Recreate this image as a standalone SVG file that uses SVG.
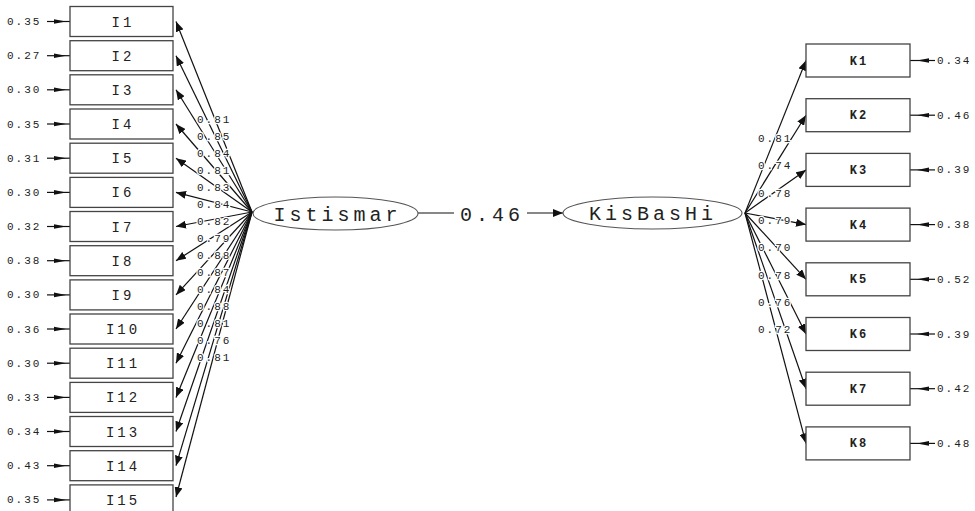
<svg xmlns="http://www.w3.org/2000/svg" width="975" height="511" viewBox="0 0 975 511">
<style>
.box{fill:#fff;stroke:#444;stroke-width:1.3}
.ell{fill:#fff;stroke:#555;stroke-width:1.1}
.ln{stroke:#111;stroke-width:1.2;fill:none}
.mono{font-family:"Liberation Mono","DejaVu Sans Mono",monospace;fill:#222}
.big{font-size:20px;letter-spacing:4px}
.ind{font-size:14px;letter-spacing:3px}
.kind{font-size:12px;letter-spacing:2px;font-weight:bold}
.err{font-size:11px;letter-spacing:2px}
.lab{font-size:11px;letter-spacing:2px;stroke:#fff;stroke-width:2.5;paint-order:stroke}
.ah{fill:#111}
</style>
<defs>
<marker id="arr" viewBox="0 0 10 8" refX="10" refY="4" markerWidth="10" markerHeight="8" orient="auto" markerUnits="userSpaceOnUse"><path d="M0,0 L10,4 L0,8 z" fill="#111"/></marker>
<path id="eR" d="M0,0 L-12,-2.3 L-12,2.3 z" class="ah"/>
<path id="eL" d="M0,0 L12,-2.3 L12,2.3 z" class="ah"/>
</defs>
<g id="connectors">
<g id="loadings-I">
<line class="ln" x1="252" y1="212" x2="176" y2="21.5" marker-end="url(#arr)"/>
<line class="ln" x1="252" y1="212" x2="176" y2="55.7" marker-end="url(#arr)"/>
<line class="ln" x1="252" y1="212" x2="176" y2="89.8" marker-end="url(#arr)"/>
<line class="ln" x1="252" y1="212" x2="176" y2="124" marker-end="url(#arr)"/>
<line class="ln" x1="252" y1="212" x2="176" y2="158.2" marker-end="url(#arr)"/>
<line class="ln" x1="252" y1="212" x2="176" y2="192.4" marker-end="url(#arr)"/>
<line class="ln" x1="252" y1="212" x2="176" y2="226.5" marker-end="url(#arr)"/>
<line class="ln" x1="252" y1="212" x2="176" y2="260.7" marker-end="url(#arr)"/>
<line class="ln" x1="252" y1="212" x2="176" y2="294.9" marker-end="url(#arr)"/>
<line class="ln" x1="252" y1="212" x2="176" y2="329" marker-end="url(#arr)"/>
<line class="ln" x1="252" y1="212" x2="176" y2="363.2" marker-end="url(#arr)"/>
<line class="ln" x1="252" y1="212" x2="176" y2="397.4" marker-end="url(#arr)"/>
<line class="ln" x1="252" y1="212" x2="176" y2="431.5" marker-end="url(#arr)"/>
<line class="ln" x1="252" y1="212" x2="176" y2="465.7" marker-end="url(#arr)"/>
<line class="ln" x1="252" y1="212" x2="176" y2="497" marker-end="url(#arr)"/>
</g>
<g id="loadings-K">
<line class="ln" x1="745" y1="213" x2="806" y2="60.5" marker-end="url(#arr)"/>
<line class="ln" x1="745" y1="213" x2="806" y2="115.2" marker-end="url(#arr)"/>
<line class="ln" x1="745" y1="213" x2="806" y2="169.9" marker-end="url(#arr)"/>
<line class="ln" x1="745" y1="213" x2="806" y2="224.6" marker-end="url(#arr)"/>
<line class="ln" x1="745" y1="213" x2="806" y2="279.3" marker-end="url(#arr)"/>
<line class="ln" x1="745" y1="213" x2="806" y2="334" marker-end="url(#arr)"/>
<line class="ln" x1="745" y1="213" x2="806" y2="388.7" marker-end="url(#arr)"/>
<line class="ln" x1="745" y1="213" x2="806" y2="443.4" marker-end="url(#arr)"/>
</g>
<g id="path-structural">
<line class="ln" x1="418" y1="213" x2="454" y2="213"/>
<line class="ln" x1="527" y1="213" x2="563" y2="213" marker-end="url(#arr)"/>
<text class="mono big" x="460" y="221">0.46</text>
</g>
<g id="labels-I" class="mono lab">
<text x="197" y="123">0.81</text>
<text x="197" y="140">0.85</text>
<text x="197" y="157">0.84</text>
<text x="197" y="174">0.81</text>
<text x="197" y="191">0.83</text>
<text x="197" y="208">0.84</text>
<text x="197" y="225">0.82</text>
<text x="197" y="242">0.79</text>
<text x="197" y="259">0.88</text>
<text x="197" y="276">0.87</text>
<text x="197" y="293">0.84</text>
<text x="197" y="310">0.88</text>
<text x="197" y="327">0.81</text>
<text x="197" y="344">0.76</text>
<text x="197" y="361">0.81</text>
</g>
<g id="labels-K" class="mono lab">
<text x="758" y="142">0.81</text>
<text x="758" y="169">0.74</text>
<text x="758" y="197">0.78</text>
<text x="758" y="224">0.79</text>
<text x="758" y="251">0.70</text>
<text x="758" y="279">0.78</text>
<text x="758" y="306">0.76</text>
<text x="758" y="333">0.72</text>
</g>
<g id="errors-I">
<line class="ln" x1="47" y1="21.5" x2="70" y2="21.5"/><use href="#eR" x="66" y="21.5"/>
<line class="ln" x1="47" y1="55.7" x2="70" y2="55.7"/><use href="#eR" x="66" y="55.7"/>
<line class="ln" x1="47" y1="89.8" x2="70" y2="89.8"/><use href="#eR" x="66" y="89.8"/>
<line class="ln" x1="47" y1="124" x2="70" y2="124"/><use href="#eR" x="66" y="124"/>
<line class="ln" x1="47" y1="158.2" x2="70" y2="158.2"/><use href="#eR" x="66" y="158.2"/>
<line class="ln" x1="47" y1="192.4" x2="70" y2="192.4"/><use href="#eR" x="66" y="192.4"/>
<line class="ln" x1="47" y1="226.5" x2="70" y2="226.5"/><use href="#eR" x="66" y="226.5"/>
<line class="ln" x1="47" y1="260.7" x2="70" y2="260.7"/><use href="#eR" x="66" y="260.7"/>
<line class="ln" x1="47" y1="294.9" x2="70" y2="294.9"/><use href="#eR" x="66" y="294.9"/>
<line class="ln" x1="47" y1="329" x2="70" y2="329"/><use href="#eR" x="66" y="329"/>
<line class="ln" x1="47" y1="363.2" x2="70" y2="363.2"/><use href="#eR" x="66" y="363.2"/>
<line class="ln" x1="47" y1="397.4" x2="70" y2="397.4"/><use href="#eR" x="66" y="397.4"/>
<line class="ln" x1="47" y1="431.5" x2="70" y2="431.5"/><use href="#eR" x="66" y="431.5"/>
<line class="ln" x1="47" y1="465.7" x2="70" y2="465.7"/><use href="#eR" x="66" y="465.7"/>
<line class="ln" x1="47" y1="499.9" x2="70" y2="499.9"/><use href="#eR" x="66" y="499.9"/>
</g>
<g id="errors-K">
<line class="ln" x1="910" y1="60.5" x2="935" y2="60.5"/><use href="#eL" x="917" y="60.5"/>
<line class="ln" x1="910" y1="115.2" x2="935" y2="115.2"/><use href="#eL" x="917" y="115.2"/>
<line class="ln" x1="910" y1="169.9" x2="935" y2="169.9"/><use href="#eL" x="917" y="169.9"/>
<line class="ln" x1="910" y1="224.6" x2="935" y2="224.6"/><use href="#eL" x="917" y="224.6"/>
<line class="ln" x1="910" y1="279.3" x2="935" y2="279.3"/><use href="#eL" x="917" y="279.3"/>
<line class="ln" x1="910" y1="334" x2="935" y2="334"/><use href="#eL" x="917" y="334"/>
<line class="ln" x1="910" y1="388.7" x2="935" y2="388.7"/><use href="#eL" x="917" y="388.7"/>
<line class="ln" x1="910" y1="443.4" x2="935" y2="443.4"/><use href="#eL" x="917" y="443.4"/>
</g>
</g>
<g id="Istismar"><ellipse class="ell" cx="335.5" cy="213.5" rx="82.5" ry="16.5"/><text class="mono big" x="337.5" y="221" text-anchor="middle">Istismar</text></g>
<g id="KisBasHi"><ellipse class="ell" cx="652.5" cy="213" rx="89.5" ry="16"/><text class="mono big" x="653" y="220" text-anchor="middle">KisBasHi</text></g>
<g id="I1"><rect class="box" x="70" y="6.5" width="103" height="30"/><text class="mono ind" x="123" y="26.5" text-anchor="middle">I1</text><text class="mono err" x="7" y="25">0.35</text></g>
<g id="I2"><rect class="box" x="70" y="40.7" width="103" height="30"/><text class="mono ind" x="123" y="60.7" text-anchor="middle">I2</text><text class="mono err" x="7" y="59.2">0.27</text></g>
<g id="I3"><rect class="box" x="70" y="74.8" width="103" height="30"/><text class="mono ind" x="123" y="94.8" text-anchor="middle">I3</text><text class="mono err" x="7" y="93.3">0.30</text></g>
<g id="I4"><rect class="box" x="70" y="109" width="103" height="30"/><text class="mono ind" x="123" y="129" text-anchor="middle">I4</text><text class="mono err" x="7" y="127.5">0.35</text></g>
<g id="I5"><rect class="box" x="70" y="143.2" width="103" height="30"/><text class="mono ind" x="123" y="163.2" text-anchor="middle">I5</text><text class="mono err" x="7" y="161.7">0.31</text></g>
<g id="I6"><rect class="box" x="70" y="177.4" width="103" height="30"/><text class="mono ind" x="123" y="197.4" text-anchor="middle">I6</text><text class="mono err" x="7" y="195.9">0.30</text></g>
<g id="I7"><rect class="box" x="70" y="211.5" width="103" height="30"/><text class="mono ind" x="123" y="231.5" text-anchor="middle">I7</text><text class="mono err" x="7" y="230">0.32</text></g>
<g id="I8"><rect class="box" x="70" y="245.7" width="103" height="30"/><text class="mono ind" x="123" y="265.7" text-anchor="middle">I8</text><text class="mono err" x="7" y="264.2">0.38</text></g>
<g id="I9"><rect class="box" x="70" y="279.9" width="103" height="30"/><text class="mono ind" x="123" y="299.9" text-anchor="middle">I9</text><text class="mono err" x="7" y="298.4">0.30</text></g>
<g id="I10"><rect class="box" x="70" y="314" width="103" height="30"/><text class="mono ind" x="123" y="334" text-anchor="middle">I10</text><text class="mono err" x="7" y="332.5">0.36</text></g>
<g id="I11"><rect class="box" x="70" y="348.2" width="103" height="30"/><text class="mono ind" x="123" y="368.2" text-anchor="middle">I11</text><text class="mono err" x="7" y="366.7">0.30</text></g>
<g id="I12"><rect class="box" x="70" y="382.4" width="103" height="30"/><text class="mono ind" x="123" y="402.4" text-anchor="middle">I12</text><text class="mono err" x="7" y="400.9">0.33</text></g>
<g id="I13"><rect class="box" x="70" y="416.5" width="103" height="30"/><text class="mono ind" x="123" y="436.5" text-anchor="middle">I13</text><text class="mono err" x="7" y="435">0.34</text></g>
<g id="I14"><rect class="box" x="70" y="450.7" width="103" height="30"/><text class="mono ind" x="123" y="470.7" text-anchor="middle">I14</text><text class="mono err" x="7" y="469.2">0.43</text></g>
<g id="I15"><rect class="box" x="70" y="484.9" width="103" height="30"/><text class="mono ind" x="123" y="504.9" text-anchor="middle">I15</text><text class="mono err" x="7" y="503.4">0.35</text></g>
<g id="K1"><rect class="box" x="806" y="44" width="104" height="33"/><text class="mono kind" x="859" y="64.5" text-anchor="middle">K1</text><text class="mono err" x="937" y="64">0.34</text></g>
<g id="K2"><rect class="box" x="806" y="98.7" width="104" height="33"/><text class="mono kind" x="859" y="119.2" text-anchor="middle">K2</text><text class="mono err" x="937" y="118.7">0.46</text></g>
<g id="K3"><rect class="box" x="806" y="153.4" width="104" height="33"/><text class="mono kind" x="859" y="173.9" text-anchor="middle">K3</text><text class="mono err" x="937" y="173.4">0.39</text></g>
<g id="K4"><rect class="box" x="806" y="208.1" width="104" height="33"/><text class="mono kind" x="859" y="228.6" text-anchor="middle">K4</text><text class="mono err" x="937" y="228.1">0.38</text></g>
<g id="K5"><rect class="box" x="806" y="262.8" width="104" height="33"/><text class="mono kind" x="859" y="283.3" text-anchor="middle">K5</text><text class="mono err" x="937" y="282.8">0.52</text></g>
<g id="K6"><rect class="box" x="806" y="317.5" width="104" height="33"/><text class="mono kind" x="859" y="338" text-anchor="middle">K6</text><text class="mono err" x="937" y="337.5">0.39</text></g>
<g id="K7"><rect class="box" x="806" y="372.2" width="104" height="33"/><text class="mono kind" x="859" y="392.7" text-anchor="middle">K7</text><text class="mono err" x="937" y="392.2">0.42</text></g>
<g id="K8"><rect class="box" x="806" y="426.9" width="104" height="33"/><text class="mono kind" x="859" y="447.4" text-anchor="middle">K8</text><text class="mono err" x="937" y="446.9">0.48</text></g>
</svg>
